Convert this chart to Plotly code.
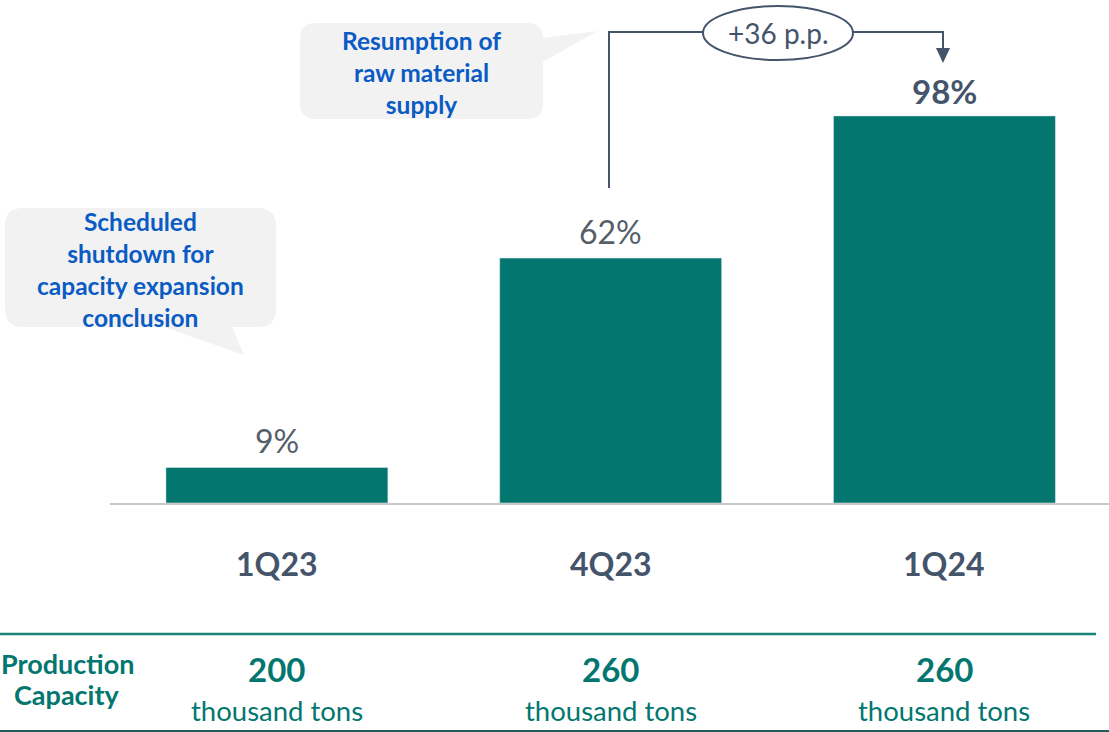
import plotly.graph_objects as go

# ---- data ----
categories = ["1Q23", "4Q23", "1Q24"]
utilization = [9, 62, 98]
value_labels = ["9%", "62%", "<b>98%</b>"]
capacity = [200, 260, 260]
capacity_unit = "thousand tons"
delta_label = "+36 p.p."
note_1 = "Scheduled<br>shutdown for<br>capacity expansion<br>conclusion"
note_2 = "Resumption of<br>raw material<br>supply"
row_label = ["Production", "Capacity"]

W, H = 1109, 732
TEAL = "#03776F"
SLATE = "#44546A"
BLUE = "#0A5BC4"
FONT = "Lato"


def px(x):
    return x / W


def py(y):
    return 1 - y / H


fig = go.Figure()
fig.add_trace(go.Bar(x=categories, y=utilization, marker_color=TEAL, width=0.665,
                     hoverinfo="skip"))

BASE_Y = 503
fig.update_layout(
    width=W, height=H, margin=dict(l=0, r=0, t=0, b=0),
    paper_bgcolor="white", plot_bgcolor="white", showlegend=False,
    font=dict(family=FONT, color=SLATE),
    xaxis=dict(domain=[px(110), 1], range=[-0.5, 2.493], showticklabels=False,
               showgrid=False, zeroline=False, showline=True, linecolor="#C8C8C8",
               linewidth=2, ticks=""),
    yaxis=dict(domain=[py(BASE_Y), 1], range=[0, BASE_Y / 3.95], visible=False,
               showgrid=False, zeroline=False),
)

ann = []
# bar value labels
for c, v, t in zip(categories, utilization, value_labels):
    bold = "<b>" in t
    ann.append(dict(x=c, y=v, xref="x", yref="y", text=t, showarrow=False,
                    xanchor="center", yanchor="bottom", yshift=3 if bold else 5,
                    font=dict(size=33 if bold else 32, color=SLATE if bold else "#555F69",
                              family=FONT)))
# category labels
for c in categories:
    ann.append(dict(x=c, y=py(563), xref="x", yref="paper", text=f"<b>{c}</b>",
                    showarrow=False, xanchor="center", yanchor="middle",
                    font=dict(size=32, color=SLATE, family=FONT)))
# capacity row
for c, cap in zip(categories, capacity):
    ann.append(dict(x=c, y=py(669), xref="x", yref="paper", text=f"<b>{cap}</b>",
                    showarrow=False, xanchor="center", yanchor="middle",
                    font=dict(size=33, color=TEAL, family=FONT)))
    ann.append(dict(x=c, y=py(710), xref="x", yref="paper", text=capacity_unit,
                    showarrow=False, xanchor="center", yanchor="middle",
                    font=dict(size=27.5, color=TEAL, family=FONT)))
for txt, yy in zip(row_label, [663, 694]):
    ann.append(dict(x=px(67), y=py(yy), xref="paper", yref="paper",
                    text=f"<b>{txt}</b>", showarrow=False,
                    yanchor="middle", xanchor="center",
                    font=dict(size=27, color=TEAL, family=FONT)))
# callout texts
ann.append(dict(x=px(140), y=py(269), xref="paper", yref="paper", text=f"<b>{note_1}</b>",
                showarrow=False, xanchor="center", yanchor="middle", align="center",
                font=dict(size=24.5, color=BLUE, family=FONT)))
ann.append(dict(x=px(421), y=py(72), xref="paper", yref="paper", text=f"<b>{note_2}</b>",
                showarrow=False, xanchor="center", yanchor="middle", align="center",
                font=dict(size=24.5, color=BLUE, family=FONT)))
# delta label
ann.append(dict(x=px(778), y=py(33), xref="paper", yref="paper", text=delta_label,
                showarrow=False, xanchor="center", yanchor="middle",
                font=dict(size=28, color=SLATE, family=FONT)))

shapes = []


def P(x, y):
    return f"{px(x):.5f},{py(y):.5f}"


def callout_path(x0, y0, x1, y1, r, tail):
    kind, pts = tail
    d = f"M{P(x0 + r, y0)} L{P(x1 - r, y0)} Q{P(x1, y0)} {P(x1, y0 + r)} "
    if kind == "right":
        for p in pts:
            d += f"L{P(*p)} "
    d += f"L{P(x1, y1 - r)} Q{P(x1, y1)} {P(x1 - r, y1)} "
    if kind == "bottom":
        for p in pts:
            d += f"L{P(*p)} "
    d += f"L{P(x0 + r, y1)} Q{P(x0, y1)} {P(x0, y1 - r)} L{P(x0, y0 + r)} Q{P(x0, y0)} {P(x0 + r, y0)} Z"
    return d


shapes.append(dict(type="path", xref="paper", yref="paper",
                   path=callout_path(5, 208, 276, 327, 18,
                                     ("bottom", [(232, 327), (244, 355), (164, 327)])),
                   fillcolor="#F2F2F2", line=dict(width=0), layer="below"))
shapes.append(dict(type="path", xref="paper", yref="paper",
                   path=callout_path(300, 23, 543, 119, 16,
                                     ("right", [(543, 38), (597, 31), (543, 62)])),
                   fillcolor="#F2F2F2", line=dict(width=0), layer="below"))

# connector
line = dict(color=SLATE, width=2)
shapes.append(dict(type="path", xref="paper", yref="paper",
                   path=f"M{P(609, 188)} L{P(609, 32)} L{P(703, 32)}", line=line))
shapes.append(dict(type="path", xref="paper", yref="paper",
                   path=f"M{P(853, 32)} L{P(943, 32)} L{P(943, 50)}", line=line))
shapes.append(dict(type="path", xref="paper", yref="paper",
                   path=f"M{P(936, 48)} L{P(950, 48)} L{P(943, 63)} Z",
                   fillcolor=SLATE, line=dict(width=0)))
shapes.append(dict(type="circle", xref="paper", yref="paper",
                   x0=px(703), x1=px(853), y0=py(60), y1=py(6),
                   line=dict(color=SLATE, width=2), fillcolor="white"))

# table lines
shapes.append(dict(type="line", xref="paper", yref="paper", x0=0, x1=px(1096),
                   y0=py(634), y1=py(634), line=dict(color="#17847A", width=2.5)))
shapes.append(dict(type="line", xref="paper", yref="paper", x0=0, x1=1,
                   y0=py(731), y1=py(731), line=dict(color="#1F5F5A", width=2)))

fig.update_layout(annotations=ann, shapes=shapes)
fig.write_html("out.html")
